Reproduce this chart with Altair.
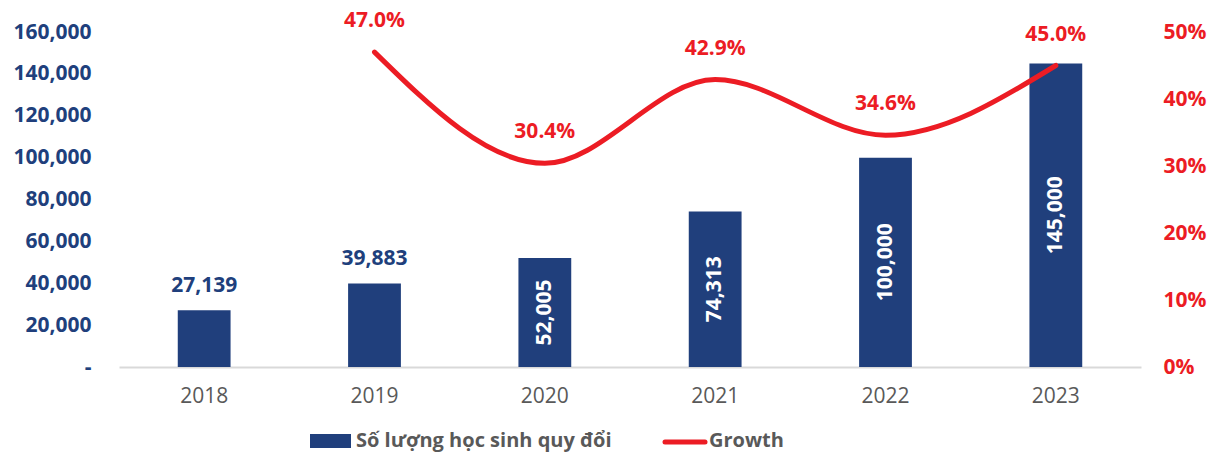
import altair as alt
import pandas as pd

years = ["2018", "2019", "2020", "2021", "2022", "2023"]
students = [27139, 39883, 52005, 74313, 100000, 145000]
growth = [None, 0.470, 0.304, 0.429, 0.346, 0.450]
label_inside = [False, False, True, True, True, True]

NAVY = "#203F7C"
RED = "#EC1C24"
GREY = "#595959"
FONT = "Open Sans"

df = pd.DataFrame({"year": years, "students": students, "growth": growth, "inside": label_inside})

base = alt.Chart(df)

xenc = alt.X("year:N", sort=years, title=None,
             scale=alt.Scale(paddingInner=0.69, paddingOuter=0.345),
             axis=alt.Axis(labelAngle=0, labelFont=FONT, labelFontSize=21, labelColor=GREY,
                           labelPadding=18, ticks=False, domainColor="#D9D9D9", domainWidth=2,
                           grid=False))

yscale = alt.Scale(domain=[0, 160000], nice=False)
yaxis = alt.Axis(values=[0, 20000, 40000, 60000, 80000, 100000, 120000, 140000, 160000],
                 labelExpr="datum.value == 0 ? '-' : format(datum.value, ',')",
                 labelFont=FONT, labelFontSize=21, labelFontWeight="bold",
                 labelColor=NAVY, labelPadding=28, ticks=False, domain=False,
                 grid=False, orient="left")

bars = base.mark_bar(color=NAVY).encode(
    x=xenc,
    y=alt.Y("students:Q", scale=yscale, title=None, axis=yaxis),
)

lab_out = base.transform_filter("!datum.inside").mark_text(
    font=FONT, fontSize=21, fontWeight="bold", color=NAVY, baseline="middle", dy=-24
).encode(
    x=alt.X("year:N", sort=years, title=None),
    y=alt.Y("students:Q", scale=yscale, title=None, axis=yaxis),
    text=alt.Text("students:Q", format=","),
)

lab_in = base.transform_filter("datum.inside").transform_calculate(
    mid="datum.students / 2"
).mark_text(
    font=FONT, fontSize=21, fontWeight="bold", color="white", baseline="middle", align="center",
    angle=270
).encode(
    x=alt.X("year:N", sort=years, title=None),
    y=alt.Y("mid:Q", scale=yscale, title=None, axis=yaxis),
    text=alt.Text("students:Q", format=","),
)

bar_group = alt.layer(bars, lab_out, lab_in)

gscale = alt.Scale(domain=[0, 0.5], nice=False)
gaxis = alt.Axis(orient="right", values=[0, 0.1, 0.2, 0.3, 0.4, 0.5], format=".0%",
                 labelFont=FONT, labelFontSize=21, labelFontWeight="bold",
                 labelColor=RED, labelPadding=22, ticks=False, domain=False,
                 grid=False)

line = base.transform_filter("isValid(datum.growth)").mark_line(
    color=RED, strokeWidth=5, interpolate="monotone", strokeCap="round"
).encode(
    x=alt.X("year:N", sort=years, title=None),
    y=alt.Y("growth:Q", scale=gscale, title=None, axis=gaxis),
)

glab = base.transform_filter("isValid(datum.growth)").mark_text(
    font=FONT, fontSize=21, fontWeight="bold", color=RED, baseline="middle", dy=-31
).encode(
    x=alt.X("year:N", sort=years, title=None),
    y=alt.Y("growth:Q", scale=gscale, title=None, axis=gaxis),
    text=alt.Text("growth:Q", format=".1%"),
)

line_group = alt.layer(line, glab)

# legend
leg_df = pd.DataFrame({"k": [0]})
leg_base = alt.Chart(leg_df)
leg_rect = leg_base.mark_rect(color=NAVY).encode(
    x=alt.value(191), x2=alt.value(232), y=alt.value(402), y2=alt.value(416)
)
leg_t1 = leg_base.mark_text(font=FONT, fontSize=20, fontWeight="bold", color=GREY,
                            align="left", baseline="middle",
                            text="Số lượng học sinh quy đổi").encode(
    x=alt.value(237), y=alt.value(409)
)
leg_rule = leg_base.mark_rule(color=RED, strokeWidth=5, strokeCap="round").encode(
    x=alt.value(546), x2=alt.value(586), y=alt.value(410)
)
leg_t2 = leg_base.mark_text(font=FONT, fontSize=20, fontWeight="bold", color=GREY,
                            align="left", baseline="middle", text="Growth").encode(
    x=alt.value(590), y=alt.value(409)
)

chart = alt.layer(bar_group, line_group, leg_rect, leg_t1, leg_rule, leg_t2).resolve_scale(
    y="independent"
).properties(
    width=1022, height=335,
    padding={"left": 119, "top": 32, "right": 66, "bottom": 88},
    autosize=alt.AutoSizeParams(type="none"),
    background="white",
).configure_view(stroke=None)

chart.save("out.html", embed_options={"renderer": "svg", "actions": False})
